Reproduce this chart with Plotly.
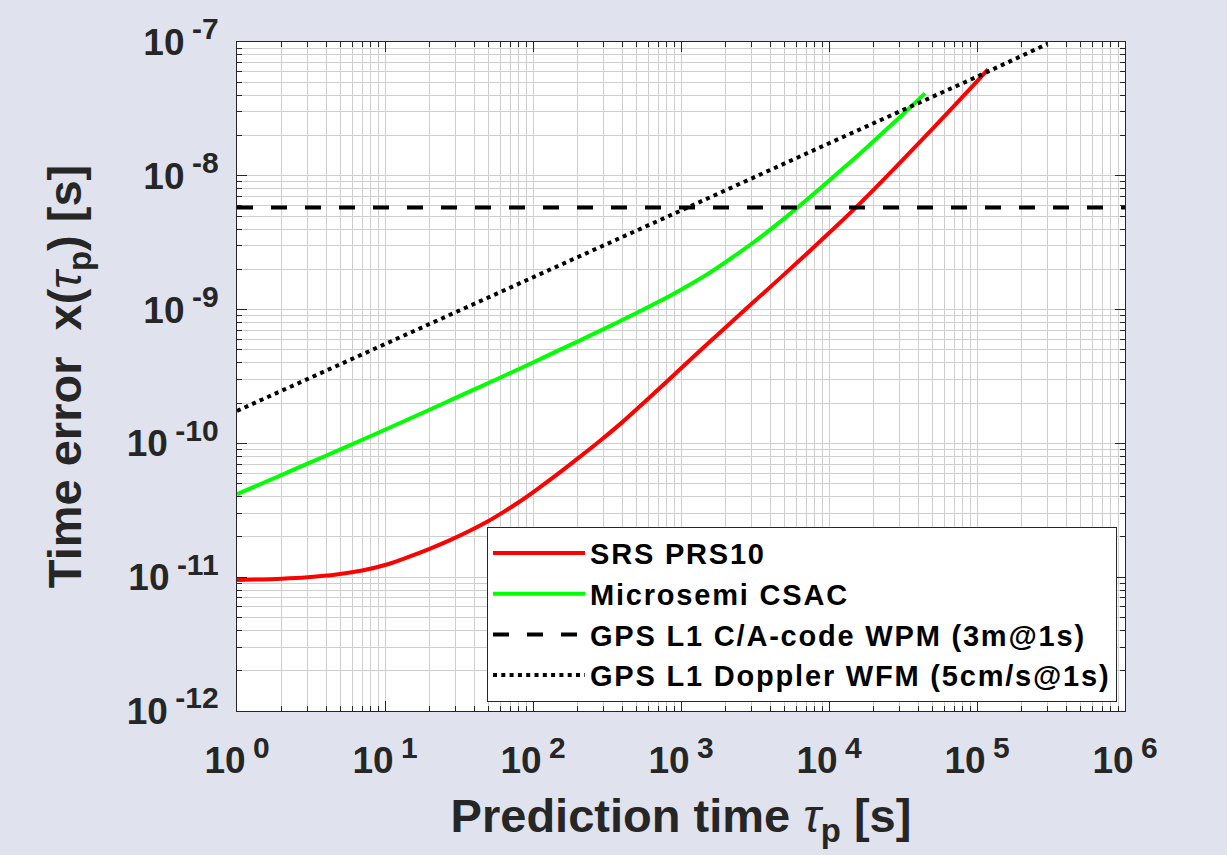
import plotly.graph_objects as go

# ---- data ----
tau_prs10 = [1, 2, 3, 4.7, 7, 10.3, 14, 20.2, 28, 37.7, 50, 63.4, 80, 106, 145, 200, 284,
             400, 600, 985, 1500, 2000, 3000, 5000, 1e4, 1.54e4, 2e4, 3e4, 5e4, 1e5, 1.186e5]
x_prs10 = [9.51e-12, 9.75e-12, 1.000e-11, 1.047e-11, 1.122e-11, 1.245e-11, 1.400e-11,
           1.637e-11, 1.910e-11, 2.234e-11, 2.630e-11, 3.076e-11, 3.631e-11, 4.519e-11,
           5.834e-11, 7.691e-11, 1.047e-10, 1.436e-10, 2.153e-10, 3.581e-10, 5.508e-10,
           7.362e-10, 1.104e-9, 1.841e-9, 3.733e-9, 5.888e-9, 7.852e-9, 1.242e-8, 2.244e-8,
           5.082e-8, 6.237e-8]

tau_csac = [1, 2, 3, 5, 10, 20, 30, 50, 100, 150, 200, 300, 500, 700, 1000, 1500, 2000,
            3000, 5000, 6050, 1e4, 1.5e4, 2e4, 3.1e4, 4.45e4]
x_csac = [4.169e-11, 5.808e-11, 7.063e-11, 9.016e-11, 1.265e-10, 1.786e-10, 2.188e-10,
          2.825e-10, 4.027e-10, 4.977e-10, 5.768e-10, 7.145e-10, 9.419e-10, 1.138e-9,
          1.409e-9, 1.832e-9, 2.265e-9, 3.105e-9, 4.808e-9, 5.715e-9, 9.183e-9, 1.361e-8,
          1.811e-8, 2.825e-8, 4.130e-8]

tau_wpm = [1, 1e6]
x_wpm = [5.8e-9, 5.8e-9]

tau_wfm = [1, 10, 100, 1000, 1e4, 1e5, 3.0e5]
x_wfm = [1.75e-10, 5.5e-10, 1.75e-9, 5.5e-9, 1.75e-8, 5.5e-8, 9.7e-8]

names = ["SRS PRS10", "Microsemi CSAC", "GPS L1 C/A-code WPM (3m@1s)", "GPS L1 Doppler WFM (5cm/s@1s)"]

SUP = "<sup><span style='font-size:30px'>{}</span></sup>"
x_major = [1, 10, 100, 1e3, 1e4, 1e5, 1e6]
x_exp = ["0", "1", "2", "3", "4", "5", "6"]
y_major = [1e-12, 1e-11, 1e-10, 1e-9, 1e-8, 1e-7]
y_exp = ["-12", "-11", "-10", "-9", "-8", "-7"]
x_major_text = ["10\u2009" + SUP.format(e) for e in x_exp]
y_major_text = ["10\u2009" + SUP.format(e) for e in y_exp]

x_minor = [m * 10 ** e for e in range(0, 6) for m in range(2, 10)]
y_minor = [m * 10.0 ** e for e in range(-12, -7) for m in range(2, 10)]

TXT = "#262626"
FONT = "Liberation Sans, Arial, Helvetica, sans-serif"
GRID = "#cfcfcf"


def leg(s):
    return "<span style='letter-spacing:1.8px'>" + s + "</span>"


fig = go.Figure()
fig.add_trace(go.Scatter(x=tau_prs10, y=x_prs10, mode="lines", name=leg(names[0]),
                         line=dict(color="#ff0000", width=4, shape="spline", smoothing=0.8)))
fig.add_trace(go.Scatter(x=tau_csac, y=x_csac, mode="lines", name=leg(names[1]),
                         line=dict(color="#00ff00", width=4, shape="spline", smoothing=0.8)))
fig.add_trace(go.Scatter(x=tau_wpm, y=x_wpm, mode="lines", name=leg(names[2]),
                         line=dict(color="#000000", width=4, dash="16px,18px")))
fig.add_trace(go.Scatter(x=tau_wfm, y=x_wfm, mode="lines", name=leg(names[3]),
                         line=dict(color="#000000", width=4, dash="4px,4.3px")))

axis_common = dict(
    type="log",
    showline=True, linecolor=TXT, linewidth=1, mirror="ticks",
    ticks="inside", ticklen=10, tickwidth=1, tickcolor=TXT,
    showgrid=True, gridcolor=GRID, gridwidth=1,
    zeroline=False,
    tickfont=dict(family=FONT, size=37, color=TXT, weight="bold"),
    tickmode="array",
)

TAU = "<span style='font-weight:normal'><i>τ</i></span><sub>p</sub>"

fig.update_xaxes(
    **axis_common,
    range=[0, 6],
    tickvals=x_major, ticktext=x_major_text,
    ticklabelstandoff=17,
    minor=dict(tickvals=x_minor, ticks="inside", ticklen=5, tickcolor=TXT,
               showgrid=True, gridcolor=GRID, gridwidth=1),
    title=dict(text="Prediction time " + TAU + " [s]",
               font=dict(family=FONT, size=47, color=TXT, weight="bold"), standoff=18),
)
fig.update_yaxes(
    **axis_common,
    range=[-12, -7],
    tickvals=y_major, ticktext=y_major_text,
    ticklabelstandoff=10,
    minor=dict(tickvals=y_minor, ticks="inside", ticklen=5, tickcolor=TXT,
               showgrid=True, gridcolor=GRID, gridwidth=1),
    title=dict(text="Time error  x(" + TAU + ") [s]",
               font=dict(family=FONT, size=47, color=TXT, weight="bold"), standoff=30),
)

fig.update_layout(
    width=1227, height=855,
    margin=dict(l=237, r=102, t=34, b=144),
    paper_bgcolor="#e0e3ed", plot_bgcolor="#ffffff",
    showlegend=True,
    legend=dict(x=0.991, y=0.014, xanchor="right", yanchor="bottom",
                bgcolor="#ffffff", bordercolor=TXT, borderwidth=1,
                font=dict(family=FONT, size=29, color="#000000", weight="bold"),
                itemwidth=92, tracegroupgap=0),
)

fig.write_html("out.html")
